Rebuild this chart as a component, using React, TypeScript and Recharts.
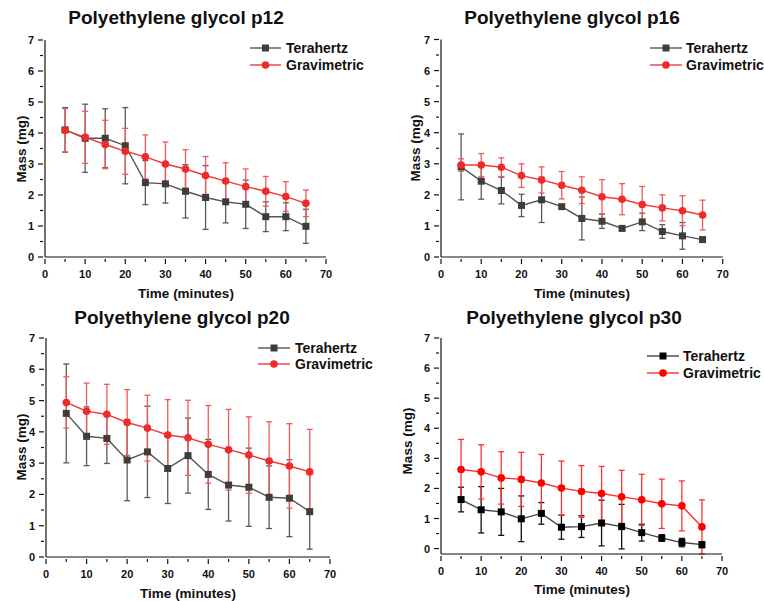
import React from 'react';
import { LineChart, Line, XAxis, YAxis, ErrorBar } from 'recharts';

const time = [5, 10, 15, 20, 25, 30, 35, 40, 45, 50, 55, 60, 65];

const p12Thz = [4.1, 3.83, 3.83, 3.59, 2.4, 2.36, 2.12, 1.92, 1.78, 1.7, 1.3, 1.3, 0.99];
const p12ThzErr = [0.72, 1.1, 0.95, 1.23, 0.71, 0.62, 0.86, 1.03, 0.68, 0.78, 0.48, 0.45, 0.55];
const p12Grav = [4.09, 3.86, 3.63, 3.41, 3.23, 3.0, 2.84, 2.63, 2.45, 2.27, 2.12, 1.95, 1.73];
const p12GravErr = [0.7, 0.84, 0.78, 0.74, 0.71, 0.71, 0.62, 0.61, 0.59, 0.57, 0.48, 0.48, 0.43];

const p16Thz = [2.9, 2.44, 2.14, 1.66, 1.84, 1.62, 1.24, 1.15, 0.92, 1.13, 0.82, 0.68, 0.56];
const p16ThzErr = [1.06, 0.58, 0.43, 0.36, 0.73, 0.04, 0.69, 0.23, 0.03, 0.28, 0.22, 0.43, 0.05];
const p16Grav = [2.96, 2.96, 2.89, 2.62, 2.48, 2.31, 2.15, 1.94, 1.86, 1.69, 1.58, 1.49, 1.35];
const p16GravErr = [0.2, 0.37, 0.3, 0.38, 0.42, 0.44, 0.43, 0.55, 0.5, 0.58, 0.42, 0.48, 0.48];

const p20Thz = [4.59, 3.86, 3.79, 3.1, 3.36, 2.83, 3.24, 2.64, 2.3, 2.23, 1.91, 1.88, 1.45];
const p20ThzErr = [1.58, 0.94, 0.8, 1.3, 1.46, 1.12, 1.2, 1.12, 1.15, 1.25, 1.0, 1.23, 1.2];
const p20Grav = [4.94, 4.66, 4.56, 4.3, 4.12, 3.9, 3.81, 3.6, 3.43, 3.26, 3.07, 2.91, 2.72];
const p20GravErr = [0.82, 0.9, 0.96, 1.05, 1.05, 1.13, 1.2, 1.24, 1.29, 1.22, 1.25, 1.35, 1.36];

const p30Thz = [1.63, 1.29, 1.22, 0.99, 1.17, 0.71, 0.73, 0.85, 0.73, 0.53, 0.35, 0.2, 0.13];
const p30ThzErr = [0.41, 0.77, 0.78, 0.76, 0.36, 0.4, 0.36, 0.76, 0.74, 0.28, 0.11, 0.14, 0.1];
const p30Grav = [2.63, 2.55, 2.35, 2.3, 2.18, 2.01, 1.9, 1.83, 1.72, 1.62, 1.49, 1.42, 0.72];
const p30GravErr = [1.0, 0.9, 0.87, 0.9, 0.95, 0.9, 0.86, 0.9, 0.88, 0.85, 0.82, 0.83, 0.9];

const xTicks = [0, 5, 10, 15, 20, 25, 30, 35, 40, 45, 50, 55, 60, 65, 70];
const yTicks = [0, 0.5, 1, 1.5, 2, 2.5, 3, 3.5, 4, 4.5, 5, 5.5, 6, 6.5, 7];

const FONT = 'Arial, "Liberation Sans", sans-serif';

const build = (thz: number[], thzErr: number[], grav: number[], gravErr: number[]) =>
  time.map((t, i) => ({ t, thz: thz[i], thzErr: thzErr[i], grav: grav[i], gravErr: gravErr[i] }));

const XTick = (props: any) => {
  const { x, y, payload } = props;
  const v = payload.value;
  const major = v % 10 === 0;
  return (
    <g>
      <line x1={x} x2={x} y1={y} y2={y + (major ? 5 : 3)} stroke="#111" strokeWidth={1.2} />
      {major && (
        <text x={x} y={y + 19} textAnchor="middle" fontFamily={FONT} fontWeight="bold" fontSize={11} fill="#111">
          {v}
        </text>
      )}
    </g>
  );
};

const YTick = (props: any) => {
  const { x, y, payload } = props;
  const v = payload.value;
  const major = Number.isInteger(v);
  return (
    <g>
      <line x1={x} x2={x - (major ? 5 : 3)} y1={y} y2={y} stroke="#111" strokeWidth={1.2} />
      {major && (
        <text x={x - 9} y={y + 4} textAnchor="end" fontFamily={FONT} fontWeight="bold" fontSize={11} fill="#111">
          {v}
        </text>
      )}
    </g>
  );
};

const SquareDot = (color: string) => (props: any) => {
  const { cx, cy, index } = props;
  return <rect key={`s${index}`} x={cx - 3.5} y={cy - 3.5} width={7} height={7} fill={color} />;
};
const CircleDot = (color: string) => (props: any) => {
  const { cx, cy, index } = props;
  return <circle key={`c${index}`} cx={cx} cy={cy} r={3.8} fill={color} />;
};

type PanelCfg = {
  left: number;
  top: number;
  title: string;
  titleX: number;
  data: any[];
  margin: { top: number; right: number; bottom: number; left: number };
  yLabel: [number, number];
  xLabel: [number, number];
  legend: { x1: number; x2: number; tx: number; y1: number; y2: number };
  thzLine: string;
  thzDot: string;
  thzErr: string;
  gravLine: string;
  gravDot: string;
  gravErr: string;
};

const Panel = ({ cfg }: { cfg: PanelCfg }) => {
  const lg = cfg.legend;
  const mid = (lg.x1 + lg.x2) / 2;
  return (
    <div style={{ position: 'absolute', left: cfg.left, top: cfg.top, width: 382, height: 300 }}>
      <LineChart width={382} height={300} data={cfg.data} margin={cfg.margin}>
        <XAxis
          dataKey="t"
          type="number"
          domain={[0, 70]}
          ticks={xTicks}
          interval={0}
          tickLine={false}
          tickSize={0}
          tick={<XTick />}
          height={30}
          axisLine={{ stroke: '#111', strokeWidth: 1.2 }}
        />
        <YAxis
          type="number"
          domain={[0, 7]}
          ticks={yTicks}
          interval={0}
          tickLine={false}
          tickSize={0}
          tick={<YTick />}
          width={40}
          axisLine={{ stroke: '#111', strokeWidth: 1.2 }}
        />
        <Line
          dataKey="thz"
          stroke={cfg.thzLine}
          strokeWidth={1.4}
          dot={SquareDot(cfg.thzDot)}
          activeDot={false}
          isAnimationActive={false}
        >
          <ErrorBar dataKey="thzErr" direction="y" width={3} stroke={cfg.thzErr} strokeWidth={1.3} />
        </Line>
        <Line
          dataKey="grav"
          stroke={cfg.gravLine}
          strokeWidth={1.4}
          dot={CircleDot(cfg.gravDot)}
          activeDot={false}
          isAnimationActive={false}
        >
          <ErrorBar dataKey="gravErr" direction="y" width={3} stroke={cfg.gravErr} strokeWidth={1.3} />
        </Line>
      </LineChart>
      <svg
        width={382}
        height={300}
        style={{ position: 'absolute', left: 0, top: 0, pointerEvents: 'none', overflow: 'visible' }}
      >
        <text x={cfg.titleX} y={24} textAnchor="middle" fontFamily={FONT} fontWeight="bold" fontSize={19} fill="#111">
          {cfg.title}
        </text>
        <text
          x={cfg.yLabel[0]}
          y={cfg.yLabel[1]}
          transform={`rotate(-90 ${cfg.yLabel[0]} ${cfg.yLabel[1]})`}
          textAnchor="middle"
          dominantBaseline="central"
          fontFamily={FONT}
          fontWeight="bold"
          fontSize={13.5}
          fill="#111"
        >
          Mass (mg)
        </text>
        <text
          x={cfg.xLabel[0]}
          y={cfg.xLabel[1]}
          textAnchor="middle"
          dominantBaseline="central"
          fontFamily={FONT}
          fontWeight="bold"
          fontSize={13.5}
          fill="#111"
        >
          Time (minutes)
        </text>
        <line x1={lg.x1} x2={lg.x2} y1={lg.y1} y2={lg.y1} stroke={cfg.thzLine} strokeWidth={1.4} />
        <rect x={mid - 3.5} y={lg.y1 - 3.5} width={7} height={7} fill={cfg.thzDot} />
        <text x={lg.tx} y={lg.y1} dominantBaseline="central" fontFamily={FONT} fontWeight="bold" fontSize={14} fill="#111">
          Terahertz
        </text>
        <line x1={lg.x1} x2={lg.x2} y1={lg.y2} y2={lg.y2} stroke={cfg.gravLine} strokeWidth={1.4} />
        <circle cx={mid} cy={lg.y2} r={3.8} fill={cfg.gravDot} />
        <text x={lg.tx} y={lg.y2} dominantBaseline="central" fontFamily={FONT} fontWeight="bold" fontSize={14} fill="#111">
          Gravimetric
        </text>
      </svg>
    </div>
  );
};

const greyCols = {
  thzLine: '#555555',
  thzDot: '#3d3d3d',
  thzErr: '#5a5a5a',
  gravLine: '#f03a3a',
  gravDot: '#ee2a2a',
  gravErr: '#f25a5a',
};

const panels: PanelCfg[] = [
  {
    left: 0,
    top: 0,
    title: 'Polyethylene glycol p12',
    titleX: 176,
    data: build(p12Thz, p12ThzErr, p12Grav, p12GravErr),
    margin: { top: 40, right: 56, bottom: 13, left: 5 },
    yLabel: [21, 149],
    xLabel: [186, 293],
    legend: { x1: 250, x2: 281, tx: 286, y1: 48, y2: 65 },
    ...greyCols,
  },
  {
    left: 382,
    top: 0,
    title: 'Polyethylene glycol p16',
    titleX: 190,
    data: build(p16Thz, p16ThzErr, p16Grav, p16GravErr),
    margin: { top: 39.5, right: 41.3, bottom: 13, left: 19 },
    yLabel: [33, 148],
    xLabel: [200, 293],
    legend: { x1: 268, x2: 300, tx: 304, y1: 48, y2: 65 },
    ...greyCols,
  },
  {
    left: 0,
    top: 300,
    title: 'Polyethylene glycol p20',
    titleX: 182,
    data: build(p20Thz, p20ThzErr, p20Grav, p20GravErr),
    margin: { top: 38, right: 52, bottom: 13, left: 6 },
    yLabel: [21, 147],
    xLabel: [188, 293],
    legend: { x1: 258, x2: 290, tx: 295, y1: 48, y2: 64 },
    ...greyCols,
  },
  {
    left: 382,
    top: 300,
    title: 'Polyethylene glycol p30',
    titleX: 192,
    data: build(p30Thz, p30ThzErr, p30Grav, p30GravErr),
    margin: { top: 38, right: 42, bottom: 16, left: 19 },
    yLabel: [25, 141],
    xLabel: [200, 289],
    legend: { x1: 265, x2: 297, tx: 301, y1: 56, y2: 73 },
    thzLine: '#444444',
    thzDot: '#000000',
    thzErr: '#111111',
    gravLine: '#ff2a2a',
    gravDot: '#ff0000',
    gravErr: '#ff3030',
  },
];

export default function App() {
  return (
    <div
      style={{
        position: 'absolute',
        left: 0,
        top: 0,
        width: 764,
        height: 601,
        background: '#ffffff',
        overflow: 'hidden',
      }}
    >
      {panels.map((p) => (
        <Panel key={p.title} cfg={p} />
      ))}
    </div>
  );
}
